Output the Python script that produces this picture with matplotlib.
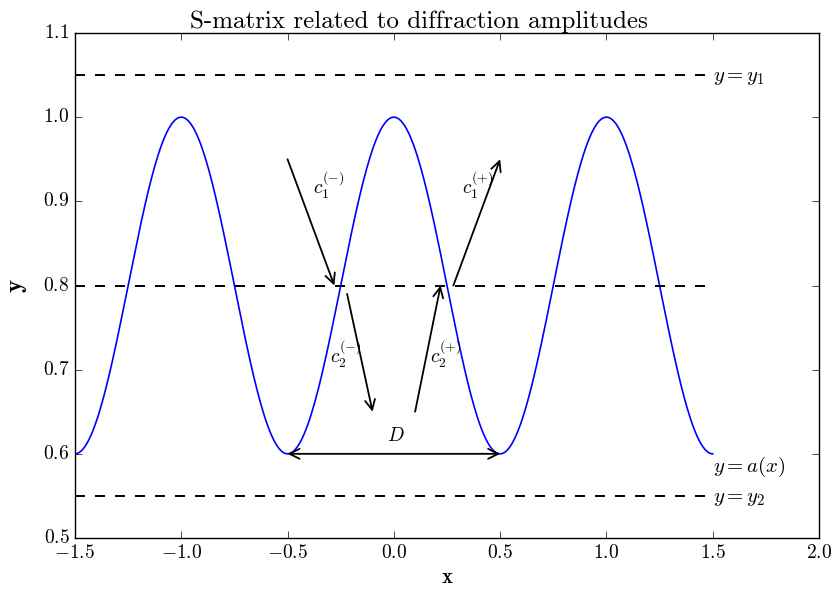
import numpy as np
import matplotlib
matplotlib.use('Agg')
import matplotlib.pyplot as plt

plt.style.use('classic')
plt.rcParams['font.family'] = 'serif'
plt.rcParams['font.serif'] = ['cmr10']
plt.rcParams['mathtext.fontset'] = 'cm'
plt.rcParams['axes.formatter.use_mathtext'] = True
plt.rcParams['xtick.labelsize'] = 14
plt.rcParams['ytick.labelsize'] = 14
plt.rcParams['xtick.major.size'] = 5
plt.rcParams['ytick.major.size'] = 5

# surface a(x) and reference levels
x_lo, x_hi = -1.5, 1.5
y_mid, y_amp = 0.8, 0.2
y1, y2 = 1.05, 0.55
period_D = 1.0

# incoming/outgoing wave arrows: (start, end)
arrows = {
    'c1m': ((-0.5, 0.95), (-0.28, 0.8)),
    'c2m': ((-0.22, 0.79), (-0.1, 0.65)),
    'c2p': ((0.1, 0.65), (0.22, 0.8)),
    'c1p': ((0.28, 0.8), (0.5, 0.95)),
}
arrow_labels = {
    'c1m': ((-0.38, 0.9), r'$c_1^{(-)}$'),
    'c2m': ((-0.3, 0.7), r'$c_2^{(-)}$'),
    'c2p': ((0.17, 0.7), r'$c_2^{(+)}$'),
    'c1p': ((0.32, 0.9), r'$c_1^{(+)}$'),
}

fig = plt.figure(figsize=(8.32, 5.94), dpi=100, facecolor='white')
ax = fig.add_axes([0.0901, 0.0943, 0.8943, 0.8501])

x = np.linspace(x_lo, x_hi, 600)
ax.plot(x, y_mid + y_amp * np.cos(2 * np.pi * x / period_D), 'b-', lw=1.2)

for yy in (y1, y_mid, y2):
    ax.plot([x_lo, x_hi], [yy, yy], 'k--', lw=1.4, dashes=(7.2, 7.2))

for key, (p0, p1) in arrows.items():
    ax.annotate('', xy=p1, xytext=p0,
                arrowprops=dict(arrowstyle='->', color='k', lw=1.3,
                                shrinkA=0, shrinkB=0, mutation_scale=18))
for key, (pos, txt) in arrow_labels.items():
    ax.text(pos[0], pos[1], txt, fontsize=14, ha='left', va='bottom')

ax.annotate('', xy=(period_D / 2, y_mid - y_amp), xytext=(-period_D / 2, y_mid - y_amp),
            arrowprops=dict(arrowstyle='<->', color='k', lw=1.3,
                            shrinkA=0, shrinkB=0, mutation_scale=18))
ax.text(-0.03, 0.61, r'$D$', fontsize=14, ha='left', va='bottom')

ax.text(1.5, y1 - 0.003, r'$y = y_1$', fontsize=15, ha='left', va='center')
ax.text(1.5, 0.584, r'$y = a(x)$', fontsize=15, ha='left', va='center')
ax.text(1.5, y2 - 0.004, r'$y = y_2$', fontsize=15, ha='left', va='center')

ax.set_xlim(-1.5, 2.0)
ax.set_ylim(0.5, 1.1)
fig.text(0.504, 0.953, 'S-matrix related to diffraction amplitudes',
         fontsize=18, ha='center', va='baseline')
ax.set_xlabel('x', fontfamily='cmb10', fontsize=15)
ax.set_ylabel('y', fontfamily='cmb10', fontsize=18, labelpad=12)

fig.savefig('out.png', dpi=100, facecolor='white')
